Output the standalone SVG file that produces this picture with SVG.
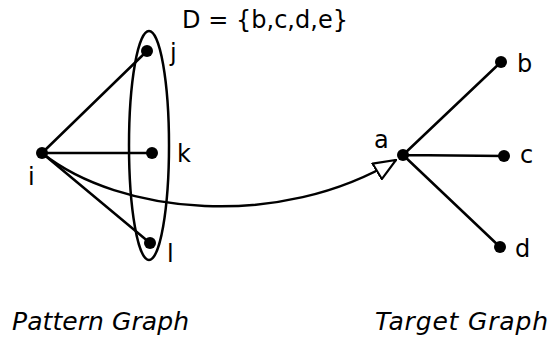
<svg xmlns="http://www.w3.org/2000/svg" width="552" height="347" viewBox="0 0 552 347">
<style>
.n{fill:#000}
.e{stroke:#000;stroke-width:2.5;fill:none}
.t{font-family:"DejaVu Sans",sans-serif;font-size:24px;fill:#000}
.ti{font-family:"DejaVu Sans",sans-serif;font-size:25px;font-style:italic;fill:#000}
</style>
<defs>
<marker id="ah" viewBox="0 0 24 20" refX="23" refY="10" markerWidth="24" markerHeight="20" markerUnits="userSpaceOnUse" orient="auto">
<path d="M1,1 L23,10 L1,19 Z" fill="#fff" stroke="#000" stroke-width="2.2"/>
</marker>
</defs>
<rect width="552" height="347" fill="#fff"/>
<g id="connectors">
<path class="e" d="M42,153 L147,51 M42,153 L152,153 M42,153 L150,243"/>
<path class="e" d="M403,155 L501,62 M403,155 L504,156 M403,155 L500,247"/>
<path class="e" d="M42,153 C120,215 280,230 396,160" marker-end="url(#ah)"/>
</g>
<g id="set-D">
<ellipse class="e" cx="149" cy="145.5" rx="20" ry="114.5"/>
<text class="t" x="182" y="28" textLength="166">D = {b,c,d,e}</text>
</g>
<g id="node-i"><circle class="n" cx="42" cy="153" r="6"/><text class="t" x="28" y="185">i</text></g>
<g id="node-j"><circle class="n" cx="147" cy="51" r="6"/><text class="t" x="170" y="61">j</text></g>
<g id="node-k"><circle class="n" cx="152" cy="153" r="6"/><text class="t" x="177" y="162">k</text></g>
<g id="node-l"><circle class="n" cx="150" cy="243" r="6"/><text class="t" x="167" y="262">l</text></g>
<g id="node-a"><circle class="n" cx="403" cy="155" r="6"/><text class="t" x="374" y="148">a</text></g>
<g id="node-b"><circle class="n" cx="501" cy="62" r="6"/><text class="t" x="517" y="72">b</text></g>
<g id="node-c"><circle class="n" cx="504" cy="156" r="6"/><text class="t" x="520" y="163">c</text></g>
<g id="node-d"><circle class="n" cx="500" cy="247" r="6"/><text class="t" x="515" y="257">d</text></g>
<text class="ti" x="12" y="330" textLength="177">Pattern Graph</text>
<text class="ti" x="375" y="330" textLength="173">Target Graph</text>
</svg>
